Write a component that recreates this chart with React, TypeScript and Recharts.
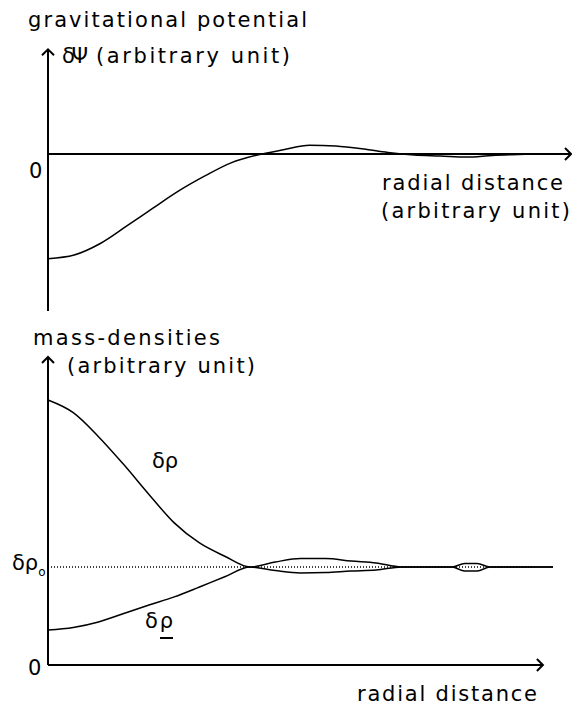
import { LineChart, Line, XAxis, YAxis, ReferenceLine } from "recharts"

// gravitational potential (top panel), radial distance 0..10
const potentialX = [0, 0.5, 1, 1.5, 2, 2.5, 3, 3.5, 4, 4.5, 5, 5.5, 6, 6.5, 7, 7.5, 8, 8.5, 9, 9.3]
const potentialY = [-1.0, -0.965, -0.855, -0.69, -0.52, -0.353, -0.21, -0.085, -0.01, 0.04, 0.084, 0.076, 0.05, 0.014, -0.01, -0.019, -0.029, -0.014, -0.005, 0]

// mass-densities (bottom panel)
const densityX = [0, 0.5, 1, 1.5, 2, 2.5, 3, 3.5, 4, 4.5, 5, 5.5, 6, 6.5, 7, 7.5, 8, 8.25, 8.5, 8.75, 9, 9.5, 10]
const rhoUpper = [2.704, 2.575, 2.33, 2.045, 1.74, 1.45, 1.245, 1.11, 1.0, 1.051, 1.087, 1.087, 1.061, 1.041, 1.0, 1.0, 1.0, 1.036, 1.036, 1.0, 1.0, 1.0, 1.0]
const rhoLower = [0.357, 0.383, 0.439, 0.526, 0.612, 0.695, 0.796, 0.9, 1.0, 0.964, 0.94, 0.945, 0.959, 0.969, 1.0, 1.0, 1.0, 0.959, 0.959, 1.0, 1.0, 1.0, 1.0]
const rho0 = 1
const rho0End = 9.64
const xAxisEnd = 9.8

const potentialData = potentialX.map((x, i) => ({ x, psi: potentialY[i] }))
const densityData = densityX.map((x, i) => ({ x, upper: rhoUpper[i], lower: rhoLower[i] }))

const font = "'DejaVu Sans', sans-serif"

function arrowShape(dir: "up" | "right") {
    return (props: any) => {
        const { x1, y1, x2, y2 } = props
        const h = 6
        let d = ""
        if (dir === "right") {
            const tx = Math.max(x1, x2)
            d = `M${tx - h},${y1 - h}L${tx},${y1}L${tx - h},${y1 + h}`
        } else {
            const ty = Math.min(y1, y2)
            d = `M${x1 - h},${ty + h}L${x1},${ty}L${x1 + h},${ty + h}`
        }
        return (
            <g>
                <line x1={x1} y1={y1} x2={x2} y2={y2} stroke="#000" strokeWidth={2} />
                <path d={d} fill="none" stroke="#000" strokeWidth={2} />
            </g>
        )
    }
}

function Labels() {
    const t = { fontFamily: font, fontSize: 21, fill: "#000", lengthAdjust: "spacing" as const }
    return (
        <svg width={572} height={706} style={{ position: "absolute", left: 0, top: 0, pointerEvents: "none" }}>
            <text x={28} y={27} textLength={279} {...t}>gravitational potential</text>
            <text x={62} y={63} textLength={26} {...t}>δΨ</text>
            <text x={96} y={63} textLength={194} {...t}>(arbitrary unit)</text>
            <text x={29} y={178} {...t}>0</text>
            <text x={382} y={190} textLength={181} {...t}>radial distance</text>
            <text x={381} y={218} textLength={189} {...t}>(arbitrary unit)</text>

            <text x={33} y={345} textLength={187} {...t}>mass-densities</text>
            <text x={67} y={373} textLength={188} {...t}>(arbitrary unit)</text>
            <text x={152} y={468} textLength={26} {...t}>δρ</text>
            <text x={145} y={628} textLength={28} {...t}>δρ</text>
            <line x1={160} y1={638} x2={173} y2={638} stroke="#000" strokeWidth={2} />
            <text x={12} y={570} {...t}>
                δρ<tspan fontSize={12} dy={6}>o</tspan>
            </text>
            <text x={28} y={675} {...t}>0</text>
            <text x={357} y={701} textLength={180} {...t}>radial distance</text>
        </svg>
    )
}

export default function App() {
    return (
        <div style={{ position: "absolute", left: 0, top: 0, width: 572, height: 706, background: "#fff" }}>
            <div style={{ position: "absolute", left: 0, top: 0 }}>
                <LineChart width={572} height={330} data={potentialData} margin={{ top: 49.3, right: 1, bottom: 19, left: 48 }}>
                    <XAxis type="number" dataKey="x" domain={[0, 10]} hide />
                    <YAxis type="number" domain={[-1.5, 1.0]} hide />
                    <ReferenceLine y={0} shape={arrowShape("right")} />
                    <ReferenceLine x={0} shape={arrowShape("up")} />
                    <Line type="monotone" dataKey="psi" stroke="#000" strokeWidth={1.5} dot={false} isAnimationActive={false} />
                </LineChart>
            </div>
            <div style={{ position: "absolute", left: 0, top: 330 }}>
                <LineChart width={572} height={376} data={densityData} margin={{ top: 27, right: 19, bottom: 41, left: 48 }}>
                    <XAxis type="number" dataKey="x" domain={[0, 10]} hide />
                    <YAxis type="number" domain={[0, 3.143]} hide />
                    <ReferenceLine segment={[{ x: 0, y: rho0 }, { x: rho0End, y: rho0 }]} stroke="#000" strokeWidth={1.5} strokeDasharray="1 2" />
                    <ReferenceLine segment={[{ x: 0, y: 0 }, { x: xAxisEnd, y: 0 }]} shape={arrowShape("right")} />
                    <ReferenceLine x={0} shape={arrowShape("up")} />
                    <Line type="monotone" dataKey="upper" stroke="#000" strokeWidth={1.5} dot={false} isAnimationActive={false} />
                    <Line type="monotone" dataKey="lower" stroke="#000" strokeWidth={1.5} dot={false} isAnimationActive={false} />
                </LineChart>
            </div>
            <Labels />
        </div>
    )
}
